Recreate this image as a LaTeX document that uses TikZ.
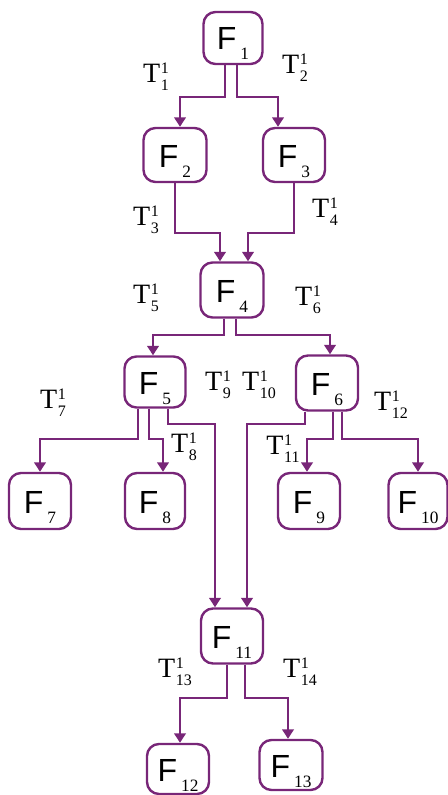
\documentclass[tikz,border=0pt]{standalone}
\usepackage{fontspec}
\setmainfont{Liberation Serif}
\newfontfamily\sansF{Liberation Sans}
\usetikzlibrary{arrows.meta}
\definecolor{pcol}{RGB}{120,38,120}
\newcommand\FF[1]{{\fontsize{24}{24}\selectfont\sansF F}\kern3pt\raisebox{-7.5pt}{\fontsize{13}{13}\selectfont #1}}
\newcommand\TT[1]{{\fontsize{21}{21}\selectfont T}\kern0.5pt\makebox[0pt][l]{\raisebox{6.5pt}{\fontsize{12}{12}\selectfont 1}}\raisebox{-6.5pt}{\fontsize{12}{12}\selectfont #1}}
\begin{document}
\begin{tikzpicture}[x=0.75pt,y=-0.75pt,
  fb/.style={draw=pcol, line width=1.8pt, rounded corners=9pt, inner sep=0pt,
    text height=19pt, text depth=1pt},
  fsz/.style 2 args={minimum width=#1*0.75pt, minimum height=#2*0.75pt},
  conn/.style={draw=pcol, line width=1.8pt, -{Triangle[width=8.5pt,length=7pt]}},
  lab/.style={inner sep=0pt}]
\useasboundingbox (0,0) rectangle (448,795);
% boxes
\node[fb,fsz={59}{52}] (F1) at (233,38) {\FF{1}};
\node[fb,fsz={63}{54}] (F2) at (175,155) {\FF{2}};
\node[fb,fsz={62}{54}] (F3) at (294,155) {\FF{3}};
\node[fb,fsz={63}{55}] (F4) at (232,290) {\FF{4}};
\node[fb,fsz={61}{51}] (F5) at (155,382) {\FF{5}};
\node[fb,fsz={62}{55}] (F6) at (327,383) {\FF{6}};
\node[fb,fsz={62}{56}] (F7) at (40,501) {\FF{7}};
\node[fb,fsz={60}{56}] (F8) at (155,501) {\FF{8}};
\node[fb,fsz={62}{56}] (F9) at (309,501) {\FF{9}};
\node[fb,fsz={59}{56}] (F10) at (418,501) {\FF{10}};
\node[fb,fsz={62}{55}] (F11) at (232,636) {\FF{11}};
\node[fb,fsz={62}{50}] (F12) at (178,769) {\FF{12}};
\node[fb,fsz={63}{50}] (F13) at (291,765) {\FF{13}};
% connectors
\draw[conn] (225,0 |- F1.south) -- (225,97) -| (180,0 |- F2.north);
\draw[conn] (237,0 |- F1.south) -- (237,97) -| (278,0 |- F3.north);
\draw[conn] (175,0 |- F2.south) -- (175,233) -| (220,0 |- F4.north);
\draw[conn] (294,0 |- F3.south) -- (294,233) -| (248,0 |- F4.north);
\draw[conn] (224,0 |- F4.south) -- (224,335) -| (153,0 |- F5.north);
\draw[conn] (236,0 |- F4.south) -- (236,335) -| (330,0 |- F6.north);
\draw[conn] (138,0 |- F5.south) -- (138,439) -| (40,0 |- F7.north);
\draw[conn] (149,0 |- F5.south) -- (149,439) -| (163,0 |- F8.north);
\draw[conn] (168,0 |- F5.south) -- (168,424) -| (215,0 |- F11.north);
\draw[conn] (305,0 |- F6.south) -- (305,424) -| (247,0 |- F11.north);
\draw[conn] (333,0 |- F6.south) -- (333,439) -| (307,0 |- F9.north);
\draw[conn] (342,0 |- F6.south) -- (342,439) -| (418,0 |- F10.north);
\draw[conn] (227,0 |- F11.south) -- (227,698) -| (180,0 |- F12.north);
\draw[conn] (245,0 |- F11.south) -- (245,698) -| (288,0 |- F13.north);
% labels
\node[lab] (T1) at (156,77) {\TT{1}};
\node[lab] (T2) at (295,68) {\TT{2}};
\node[lab] (T3) at (146,220) {\TT{3}};
\node[lab] (T4) at (325,212) {\TT{4}};
\node[lab] (T5) at (146,298) {\TT{5}};
\node[lab] (T6) at (308,300) {\TT{6}};
\node[lab] (T7) at (53,403) {\TT{7}};
\node[lab] (T8) at (184,447) {\TT{8}};
\node[lab] (T9) at (218,385) {\TT{9}};
\node[lab] (T10) at (259,385) {\TT{10}};
\node[lab] (T11) at (283,449) {\TT{11}};
\node[lab] (T12) at (391,405) {\TT{12}};
\node[lab] (T13) at (175,672) {\TT{13}};
\node[lab] (T14) at (300,672) {\TT{14}};
\end{tikzpicture}
\end{document}
